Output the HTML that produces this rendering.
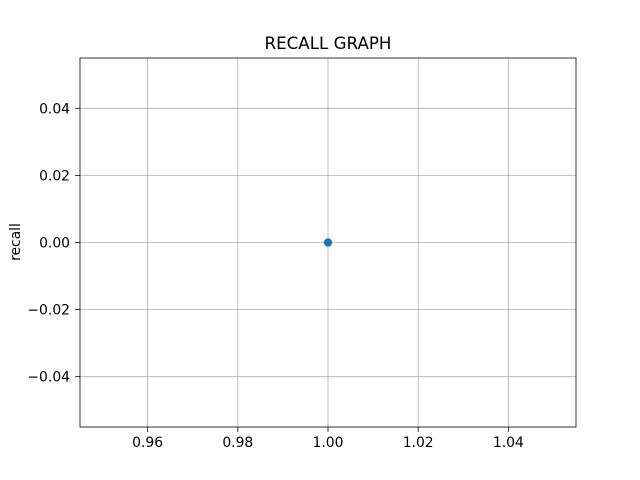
<!DOCTYPE html>
<html><head><meta charset="utf-8"><style>
body{margin:0;background:#fff;}
svg{display:block;font-family:"DejaVu Sans","Liberation Sans",sans-serif;}
</style></head><body>
<svg id="chart" width="640" height="480" viewBox="0 0 640 480" xmlns="http://www.w3.org/2000/svg">
<rect width="640" height="480" fill="#fff"/>
<g id="grid"></g>
<g id="marks"></g>
<rect x="80" y="58" width="496" height="369" fill="none" stroke="#000" stroke-width="0.8"/>
<g id="ticks"></g>
<text x="328" y="49" text-anchor="middle" font-size="16.7">RECALL GRAPH</text>
<text x="20" y="242" text-anchor="middle" font-size="13.9" transform="rotate(-90 20 242)">recall</text>
</svg>
<script>
const xValues = [1.0];
const recallValues = [0.0];
const xTicks = [0.96, 0.98, 1.00, 1.02, 1.04];
const xTickLabels = ["0.96", "0.98", "1.00", "1.02", "1.04"];
const yTicks = [-0.04, -0.02, 0.00, 0.02, 0.04];
const yTickLabels = ["\u22120.04", "\u22120.02", "0.00", "0.02", "0.04"];
const L=80,R=576,T=58,B=427;
const xMin=0.945,xMax=1.055,yMin=-0.055,yMax=0.055;
const sx=v=>L+(v-xMin)/(xMax-xMin)*(R-L);
const sy=v=>B-(v-yMin)/(yMax-yMin)*(B-T);
const NS="http://www.w3.org/2000/svg";
function mk(tag,attrs,parent){const e=document.createElementNS(NS,tag);for(const k in attrs)e.setAttribute(k,attrs[k]);parent.appendChild(e);return e;}
const grid=document.getElementById('grid'),ticks=document.getElementById('ticks'),marks=document.getElementById('marks');
xTicks.forEach((v,i)=>{const x=sx(v);
 const g=mk('line',{x1:x,x2:x,y1:T,y2:B,stroke:'#b0b0b0','stroke-width':0.8},grid);
 
 
 const t=mk('line',{x1:x,x2:x,y1:B,y2:B+4.9,stroke:'#000','stroke-width':0.8},ticks);
 
 
 const l=mk('text',{x:x,y:B+20,'text-anchor':'middle','font-size':13.9},ticks);l.textContent=xTickLabels[i];
 
 
});
yTicks.forEach((v,i)=>{const y=sy(v);
 const g=mk('line',{x1:L,x2:R,y1:y,y2:y,stroke:'#b0b0b0','stroke-width':0.8},grid);
 
 
 const t=mk('line',{x1:L-4.9,x2:L,y1:y,y2:y,stroke:'#000','stroke-width':0.8},ticks);
 
 
 const l=mk('text',{x:L-10,y:y+5,'text-anchor':'end','font-size':13.9},ticks);l.textContent=yTickLabels[i];
 
 
});
xValues.forEach((v,i)=>{
 const c=mk('circle',{cx:sx(v),cy:sy(recallValues[i]),r:4.2,fill:'#1f77b4'},marks);
 
 
});
</script>
</body></html>
